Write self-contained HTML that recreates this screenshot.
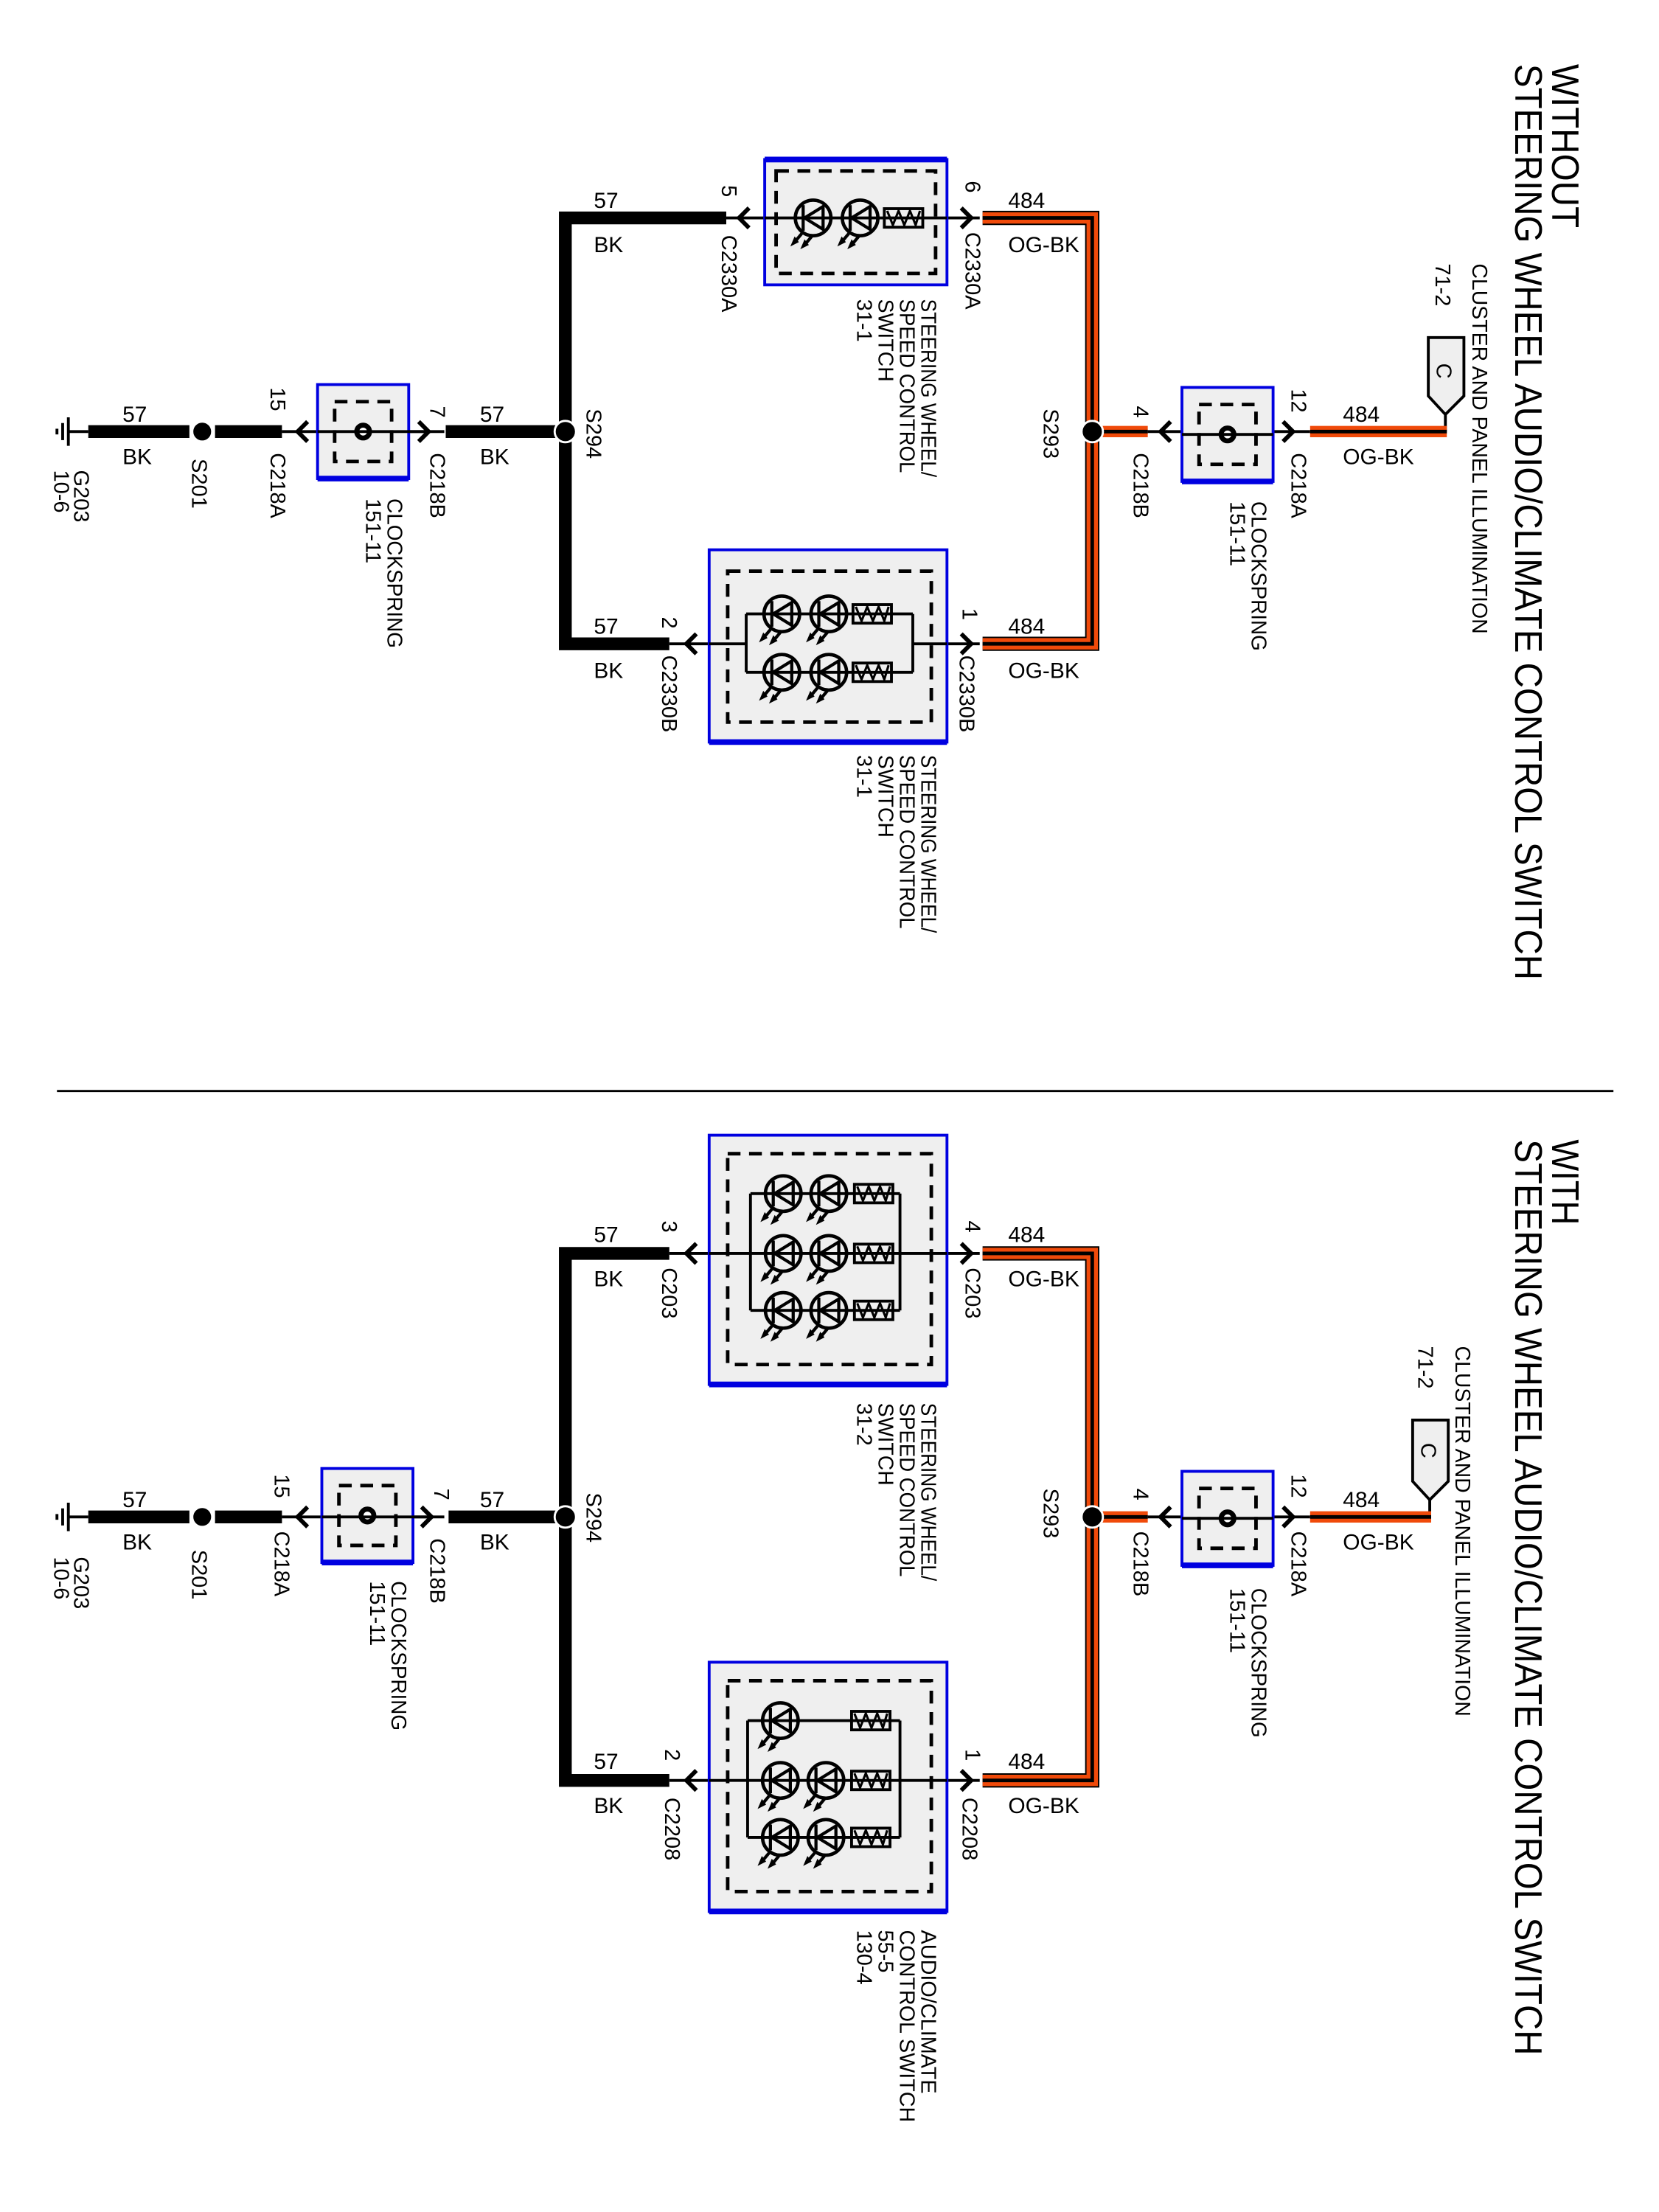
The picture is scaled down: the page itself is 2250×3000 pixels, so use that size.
<!DOCTYPE html>
<html><head><meta charset="utf-8"><style>
html,body{margin:0;padding:0;background:#fff}
svg{display:block}
text{font-family:"Liberation Sans",sans-serif;fill:#000}
.r{font-size:15px}
.u{font-size:15.5px}
.t{font-size:27px}
.w{fill:none;stroke:#000;stroke-width:9;stroke-linejoin:miter}
.o1{fill:none;stroke:#000;stroke-width:10}
.o2{fill:none;stroke:#f04a0a;stroke-width:8}
.o3{fill:none;stroke:#000;stroke-width:2.5}
.th{stroke:#000;stroke-width:2;fill:none}
.bx{fill:#efefef;stroke:#0000e0;stroke-width:2}
.bxb{fill:none;stroke:#0000e0;stroke-width:4}
.ds{fill:none;stroke:#000;stroke-width:2.5;stroke-dasharray:9,6}
.ch{fill:none;stroke:#000;stroke-width:3}
</style></head><body>
<svg width="2250" height="3000" viewBox="0 0 1165 1553" preserveAspectRatio="none" xmlns="http://www.w3.org/2000/svg">
<defs>
<g id="led">
<circle cx="0" cy="0" r="12.5" fill="none" stroke="#000" stroke-width="2.4"/>
<polygon points="-6,0 7,-8 7,8" fill="none" stroke="#000" stroke-width="2.2"/>
<line x1="-7" y1="-9" x2="-7" y2="9" stroke="#000" stroke-width="2.2"/>
<line x1="-8" y1="11" x2="-13" y2="17" stroke="#000" stroke-width="2.2"/>
<line x1="-1" y1="13" x2="-6" y2="19" stroke="#000" stroke-width="2.2"/>
<polygon points="-16,20 -13,13 -10,17" fill="#000"/>
<polygon points="-9,22 -6,15 -3,19" fill="#000"/>
</g>
<g id="res">
<rect x="0" y="-6.5" width="27" height="13" fill="none" stroke="#000" stroke-width="2"/>
<polyline points="2,-5 6,5 10,-5 14,5 18,-5 22,5 25,-5" fill="none" stroke="#000" stroke-width="1.6"/>
</g>
<g id="gnd">
<line x1="0" y1="-10" x2="0" y2="10" stroke="#000" stroke-width="2"/>
<line x1="-4" y1="-6" x2="-4" y2="6" stroke="#000" stroke-width="2"/>
<line x1="-8" y1="-2" x2="-8" y2="2" stroke="#000" stroke-width="2"/>
<line x1="0" y1="0" x2="14" y2="0" stroke="#000" stroke-width="2"/>
</g>
<g id="cs">
<rect x="0" y="0" width="64" height="66" class="bx"/>
<line x1="0" y1="66" x2="64" y2="66" class="bxb"/>
<rect x="12" y="12" width="40" height="42" class="ds"/>
<circle cx="32" cy="33" r="4.5" fill="#fff" stroke="#000" stroke-width="3.5"/>
</g>
</defs>

<!-- ================= TOP SECTION ================= -->
<text class="t" transform="translate(1090,45) rotate(90)" textLength="115" lengthAdjust="spacingAndGlyphs">WITHOUT</text>
<text class="t" transform="translate(1064,45) rotate(90)" textLength="643" lengthAdjust="spacingAndGlyphs">STEERING WHEEL AUDIO/CLIMATE CONTROL SWITCH</text>
<text class="r" transform="translate(1034,185) rotate(90)" textLength="260" lengthAdjust="spacingAndGlyphs">CLUSTER AND PANEL ILLUMINATION</text>
<text class="r" transform="translate(1008,185) rotate(90)">71-2</text>
<polygon points="1003,237 1028,237 1028,278 1015,291 1003,278" fill="#efefef" stroke="#000" stroke-width="2"/>
<text class="r" transform="translate(1009,255) rotate(90)">C</text>
<line x1="1015" y1="291" x2="1015" y2="303" class="th"/>

<use href="#gnd" x="48" y="303"/>
<line x1="62" y1="303" x2="133" y2="303" class="w"/>
<circle cx="142" cy="303" r="7" fill="#000" stroke="#fff" stroke-width="1.5"/>
<line x1="151" y1="303" x2="198" y2="303" class="w"/>
<line x1="198" y1="303" x2="312" y2="303" class="th"/>
<polyline points="216,296 209,303 216,310" class="ch"/>
<use href="#cs" x="223" y="270"/>
<line x1="223" y1="303" x2="300" y2="303" class="th"/>
<polyline points="294,296 301,303 294,310" class="ch"/>
<line x1="313" y1="303" x2="392" y2="303" class="w"/>
<polyline points="510,153 397,153 397,452 470,452" class="w"/>
<circle cx="397" cy="303" r="7.5" fill="#000" stroke="#fff" stroke-width="1.5"/>

<text class="u" x="86" y="296">57</text><text class="u" x="86" y="326">BK</text>
<text class="r" transform="translate(135,322) rotate(90)">S201</text>
<text class="r" transform="translate(190,272) rotate(90)">15</text>
<text class="r" transform="translate(190,318) rotate(90)">C218A</text>
<text class="r" transform="translate(272,350) rotate(90)" textLength="105" lengthAdjust="spacingAndGlyphs">CLOCKSPRING</text>
<text class="r" transform="translate(257,350) rotate(90)">151-11</text>
<text class="r" transform="translate(302,285) rotate(90)">7</text>
<text class="r" transform="translate(302,318) rotate(90)">C218B</text>
<text class="u" x="337" y="296">57</text><text class="u" x="337" y="326">BK</text>
<text class="r" transform="translate(412,287) rotate(90)">S294</text>
<text class="r" transform="translate(52,330) rotate(90)">G203</text>
<text class="r" transform="translate(38,330) rotate(90)">10-6</text>

<line x1="510" y1="153" x2="688" y2="153" class="th"/>
<polyline points="526,146 519,153 526,160" class="ch"/>
<rect x="537" y="112" width="128" height="88" class="bx"/>
<line x1="537" y1="112" x2="665" y2="112" class="bxb"/>
<rect x="545" y="120" width="112" height="72" class="ds"/>
<line x1="537" y1="153" x2="665" y2="153" class="th"/>
<use href="#led" x="571" y="153"/><use href="#led" x="604" y="153"/><use href="#res" x="621" y="153"/>
<polyline points="675,146 682,153 675,160" class="ch"/>
<text class="u" x="417" y="146">57</text><text class="u" x="417" y="177">BK</text>
<text class="r" transform="translate(507,130) rotate(90)">5</text>
<text class="r" transform="translate(507,165) rotate(90)">C2330A</text>
<text class="r" transform="translate(678,127) rotate(90)">6</text>
<text class="r" transform="translate(678,163) rotate(90)">C2330A</text>
<text class="u" x="708" y="146">484</text><text class="u" x="708" y="177">OG-BK</text>
<text class="r" transform="translate(647,210) rotate(90)" textLength="125" lengthAdjust="spacingAndGlyphs">STEERING WHEEL/</text>
<text class="r" transform="translate(632,210) rotate(90)" textLength="122" lengthAdjust="spacingAndGlyphs">SPEED CONTROL</text>
<text class="r" transform="translate(617,210) rotate(90)" textLength="58" lengthAdjust="spacingAndGlyphs">SWITCH</text>
<text class="r" transform="translate(602,210) rotate(90)">31-1</text>

<line x1="470" y1="452" x2="688" y2="452" class="th"/>
<polyline points="489,445 482,452 489,459" class="ch"/>
<rect x="498" y="386" width="167" height="135" class="bx"/>
<line x1="498" y1="521" x2="665" y2="521" class="bxb"/>
<rect x="511" y="401" width="143" height="106" class="ds"/>
<line x1="498" y1="452" x2="524" y2="452" class="th"/>
<polyline points="641,452 665,452" class="th"/>
<polyline points="524,431 524,472" class="th"/>
<polyline points="641,431 641,472" class="th"/>
<line x1="524" y1="431" x2="641" y2="431" class="th"/>
<line x1="524" y1="472" x2="641" y2="472" class="th"/>
<use href="#led" x="549" y="431"/><use href="#led" x="582" y="431"/><use href="#res" x="599" y="431"/>
<use href="#led" x="549" y="472"/><use href="#led" x="582" y="472"/><use href="#res" x="599" y="472"/>
<polyline points="675,445 682,452 675,459" class="ch"/>
<text class="u" x="417" y="445">57</text><text class="u" x="417" y="476">BK</text>
<text class="r" transform="translate(465,433) rotate(90)">2</text>
<text class="r" transform="translate(465,460) rotate(90)">C2330B</text>
<text class="r" transform="translate(676,427) rotate(90)">1</text>
<text class="r" transform="translate(674,460) rotate(90)">C2330B</text>
<text class="u" x="708" y="445">484</text><text class="u" x="708" y="476">OG-BK</text>
<text class="r" transform="translate(647,530) rotate(90)" textLength="125" lengthAdjust="spacingAndGlyphs">STEERING WHEEL/</text>
<text class="r" transform="translate(632,530) rotate(90)" textLength="122" lengthAdjust="spacingAndGlyphs">SPEED CONTROL</text>
<text class="r" transform="translate(617,530) rotate(90)" textLength="58" lengthAdjust="spacingAndGlyphs">SWITCH</text>
<text class="r" transform="translate(602,530) rotate(90)">31-1</text>

<polyline points="690,153 767,153 767,452 690,452" class="o1"/>
<polyline points="690,153 767,153 767,452 690,452" class="o2"/>
<polyline points="690,153 767,153 767,452 690,452" class="o3"/>
<line x1="772" y1="303" x2="806" y2="303" class="o2"/><line x1="772" y1="303" x2="806" y2="303" class="o3"/>
<circle cx="767" cy="303" r="7.5" fill="#000" stroke="#fff" stroke-width="1.5"/>
<line x1="806" y1="303" x2="920" y2="303" class="th"/>
<polyline points="822,296 815,303 822,310" class="ch"/>
<use href="#cs" x="830" y="272"/>
<line x1="830" y1="305" x2="894" y2="305" class="th"/>
<polyline points="901,296 908,303 901,310" class="ch"/>
<line x1="920" y1="303" x2="1016" y2="303" class="o2"/><line x1="920" y1="303" x2="1016" y2="303" class="o3"/>
<text class="r" transform="translate(733,287) rotate(90)">S293</text>
<text class="r" transform="translate(796,285) rotate(90)">4</text>
<text class="r" transform="translate(796,318) rotate(90)">C218B</text>
<text class="r" transform="translate(907,273) rotate(90)">12</text>
<text class="r" transform="translate(907,318) rotate(90)">C218A</text>
<text class="u" x="943" y="296">484</text><text class="u" x="943" y="326">OG-BK</text>
<text class="r" transform="translate(879,352) rotate(90)" textLength="105" lengthAdjust="spacingAndGlyphs">CLOCKSPRING</text>
<text class="r" transform="translate(864,352) rotate(90)">151-11</text>

<line x1="40" y1="766" x2="1133" y2="766" stroke="#000" stroke-width="1.5"/>

<!-- ================= BOTTOM SECTION ================= -->
<text class="t" transform="translate(1090,800) rotate(90)" textLength="60" lengthAdjust="spacingAndGlyphs">WITH</text>
<text class="t" transform="translate(1064,800) rotate(90)" textLength="643" lengthAdjust="spacingAndGlyphs">STEERING WHEEL AUDIO/CLIMATE CONTROL SWITCH</text>
<text class="r" transform="translate(1022,945) rotate(90)" textLength="260" lengthAdjust="spacingAndGlyphs">CLUSTER AND PANEL ILLUMINATION</text>
<text class="r" transform="translate(996,945) rotate(90)">71-2</text>
<polygon points="992,997 1017,997 1017,1040 1004,1053 992,1040" fill="#efefef" stroke="#000" stroke-width="2"/>
<text class="r" transform="translate(998,1013) rotate(90)">C</text>
<line x1="1004" y1="1053" x2="1004" y2="1065" class="th"/>

<use href="#gnd" x="48" y="1065"/>
<line x1="62" y1="1065" x2="133" y2="1065" class="w"/>
<circle cx="142" cy="1065" r="7" fill="#000" stroke="#fff" stroke-width="1.5"/>
<line x1="151" y1="1065" x2="198" y2="1065" class="w"/>
<line x1="198" y1="1065" x2="312" y2="1065" class="th"/>
<polyline points="216,1058 209,1065 216,1072" class="ch"/>
<use href="#cs" x="226" y="1031"/>
<line x1="226" y1="1065" x2="300" y2="1065" class="th"/>
<polyline points="296,1058 303,1065 296,1072" class="ch"/>
<line x1="315" y1="1065" x2="392" y2="1065" class="w"/>
<polyline points="470,880 397,880 397,1250 470,1250" class="w"/>
<circle cx="397" cy="1065" r="7.5" fill="#000" stroke="#fff" stroke-width="1.5"/>

<text class="u" x="86" y="1058">57</text><text class="u" x="86" y="1088">BK</text>
<text class="r" transform="translate(135,1088) rotate(90)">S201</text>
<text class="r" transform="translate(193,1035) rotate(90)">15</text>
<text class="r" transform="translate(193,1075) rotate(90)">C218A</text>
<text class="r" transform="translate(275,1110) rotate(90)" textLength="105" lengthAdjust="spacingAndGlyphs">CLOCKSPRING</text>
<text class="r" transform="translate(260,1110) rotate(90)">151-11</text>
<text class="r" transform="translate(305,1045) rotate(90)">7</text>
<text class="r" transform="translate(302,1080) rotate(90)">C218B</text>
<text class="u" x="337" y="1058">57</text><text class="u" x="337" y="1088">BK</text>
<text class="r" transform="translate(412,1048) rotate(90)">S294</text>
<text class="r" transform="translate(52,1093) rotate(90)">G203</text>
<text class="r" transform="translate(38,1093) rotate(90)">10-6</text>

<line x1="470" y1="880" x2="688" y2="880" class="th"/>
<polyline points="489,873 482,880 489,887" class="ch"/>
<rect x="498" y="797" width="167" height="175" class="bx"/>
<line x1="498" y1="972" x2="665" y2="972" class="bxb"/>
<rect x="511" y="810" width="143" height="148" class="ds"/>
<line x1="498" y1="880" x2="527" y2="880" class="th"/>
<line x1="632" y1="880" x2="665" y2="880" class="th"/>
<line x1="527" y1="838" x2="527" y2="920" class="th"/>
<line x1="632" y1="838" x2="632" y2="920" class="th"/>
<line x1="527" y1="838" x2="632" y2="838" class="th"/>
<line x1="527" y1="880" x2="632" y2="880" class="th"/>
<line x1="527" y1="920" x2="632" y2="920" class="th"/>
<use href="#led" x="550" y="838"/><use href="#led" x="582" y="838"/><use href="#res" x="600" y="838"/>
<use href="#led" x="550" y="880"/><use href="#led" x="582" y="880"/><use href="#res" x="600" y="880"/>
<use href="#led" x="550" y="920"/><use href="#led" x="582" y="920"/><use href="#res" x="600" y="920"/>
<polyline points="675,873 682,880 675,887" class="ch"/>
<text class="u" x="417" y="872">57</text><text class="u" x="417" y="903">BK</text>
<text class="r" transform="translate(465,857) rotate(90)">3</text>
<text class="r" transform="translate(465,890) rotate(90)">C203</text>
<text class="r" transform="translate(678,857) rotate(90)">4</text>
<text class="r" transform="translate(678,890) rotate(90)">C203</text>
<text class="u" x="708" y="872">484</text><text class="u" x="708" y="903">OG-BK</text>
<text class="r" transform="translate(647,985) rotate(90)" textLength="125" lengthAdjust="spacingAndGlyphs">STEERING WHEEL/</text>
<text class="r" transform="translate(632,985) rotate(90)" textLength="122" lengthAdjust="spacingAndGlyphs">SPEED CONTROL</text>
<text class="r" transform="translate(617,985) rotate(90)" textLength="58" lengthAdjust="spacingAndGlyphs">SWITCH</text>
<text class="r" transform="translate(602,985) rotate(90)">31-2</text>

<line x1="470" y1="1250" x2="688" y2="1250" class="th"/>
<polyline points="489,1243 482,1250 489,1257" class="ch"/>
<rect x="498" y="1167" width="167" height="175" class="bx"/>
<line x1="498" y1="1342" x2="665" y2="1342" class="bxb"/>
<rect x="511" y="1180" width="143" height="148" class="ds"/>
<line x1="498" y1="1250" x2="525" y2="1250" class="th"/>
<line x1="632" y1="1250" x2="665" y2="1250" class="th"/>
<line x1="525" y1="1208" x2="525" y2="1290" class="th"/>
<line x1="632" y1="1208" x2="632" y2="1290" class="th"/>
<line x1="525" y1="1208" x2="632" y2="1208" class="th"/>
<line x1="525" y1="1250" x2="632" y2="1250" class="th"/>
<line x1="525" y1="1290" x2="632" y2="1290" class="th"/>
<use href="#led" x="548" y="1208"/><use href="#res" x="598" y="1208"/>
<use href="#led" x="548" y="1250"/><use href="#led" x="580" y="1250"/><use href="#res" x="598" y="1250"/>
<use href="#led" x="548" y="1290"/><use href="#led" x="580" y="1290"/><use href="#res" x="598" y="1290"/>
<polyline points="675,1243 682,1250 675,1257" class="ch"/>
<text class="u" x="417" y="1242">57</text><text class="u" x="417" y="1273">BK</text>
<text class="r" transform="translate(467,1228) rotate(90)">2</text>
<text class="r" transform="translate(467,1262) rotate(90)">C2208</text>
<text class="r" transform="translate(678,1228) rotate(90)">1</text>
<text class="r" transform="translate(676,1262) rotate(90)">C2208</text>
<text class="u" x="708" y="1242">484</text><text class="u" x="708" y="1273">OG-BK</text>
<text class="r" transform="translate(647,1355) rotate(90)" textLength="115" lengthAdjust="spacingAndGlyphs">AUDIO/CLIMATE</text>
<text class="r" transform="translate(632,1355) rotate(90)" textLength="135" lengthAdjust="spacingAndGlyphs">CONTROL SWITCH</text>
<text class="r" transform="translate(617,1355) rotate(90)">55-5</text>
<text class="r" transform="translate(602,1355) rotate(90)">130-4</text>

<polyline points="690,880 767,880 767,1250 690,1250" class="o1"/>
<polyline points="690,880 767,880 767,1250 690,1250" class="o2"/>
<polyline points="690,880 767,880 767,1250 690,1250" class="o3"/>
<line x1="772" y1="1065" x2="806" y2="1065" class="o2"/><line x1="772" y1="1065" x2="806" y2="1065" class="o3"/>
<circle cx="767" cy="1065" r="7.5" fill="#000" stroke="#fff" stroke-width="1.5"/>
<line x1="806" y1="1065" x2="920" y2="1065" class="th"/>
<polyline points="822,1058 815,1065 822,1072" class="ch"/>
<use href="#cs" x="830" y="1033"/>
<line x1="830" y1="1066" x2="894" y2="1066" class="th"/>
<polyline points="901,1058 908,1065 901,1072" class="ch"/>
<line x1="920" y1="1065" x2="1005" y2="1065" class="o2"/><line x1="920" y1="1065" x2="1005" y2="1065" class="o3"/>
<text class="r" transform="translate(733,1045) rotate(90)">S293</text>
<text class="r" transform="translate(796,1045) rotate(90)">4</text>
<text class="r" transform="translate(796,1075) rotate(90)">C218B</text>
<text class="r" transform="translate(907,1035) rotate(90)">12</text>
<text class="r" transform="translate(907,1075) rotate(90)">C218A</text>
<text class="u" x="943" y="1058">484</text><text class="u" x="943" y="1088">OG-BK</text>
<text class="r" transform="translate(879,1115) rotate(90)" textLength="105" lengthAdjust="spacingAndGlyphs">CLOCKSPRING</text>
<text class="r" transform="translate(864,1115) rotate(90)">151-11</text>
</svg>
</body></html>
